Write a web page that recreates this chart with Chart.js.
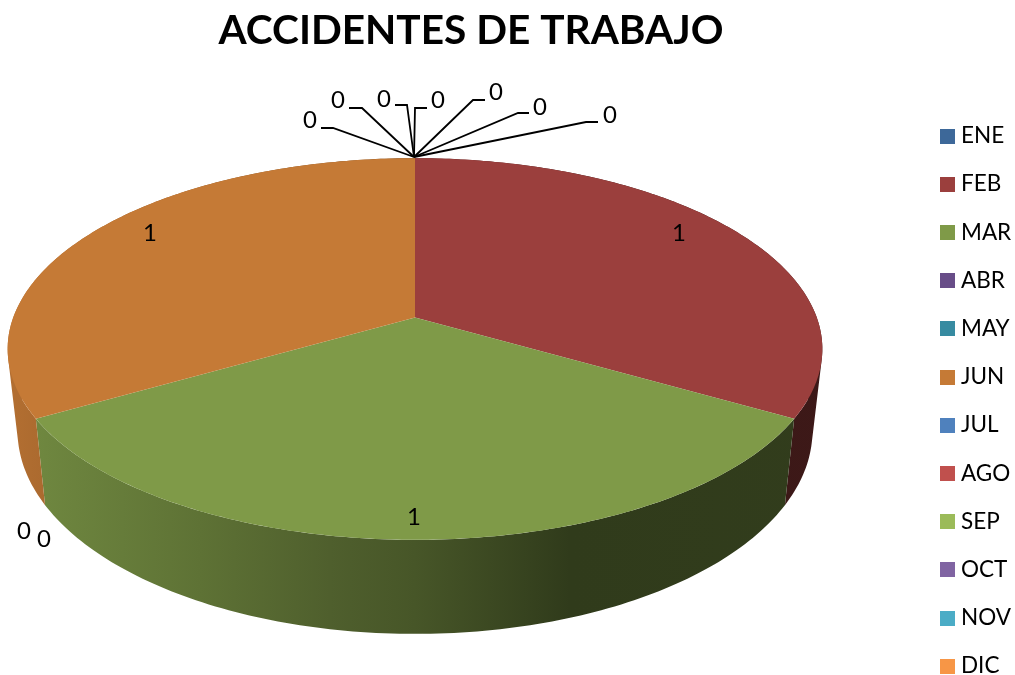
<!DOCTYPE html>
<html lang="es">
<head>
  <meta charset="UTF-8">
  <title>Accidentes de trabajo</title>
  <script src="https://cdn.jsdelivr.net/npm/chart.js"></script>
  <style>
    html, body { margin: 0; padding: 0; background: #fff; overflow: hidden; }
    #wrap { position: relative; width: 1015px; height: 675px; }
  </style>
</head>
<body>
  <div id="wrap"><canvas id="chart"></canvas></div>

  <script>
    // data
    const categories = ['ENE', 'FEB', 'MAR', 'ABR', 'MAY', 'JUN', 'JUL', 'AGO', 'SEP', 'OCT', 'NOV', 'DIC'];
    const accidents = [0, 1, 1, 0, 0, 1, 0, 0, 0, 0, 0, 0];

    // styles
    const topColors = ['#3d6899', '#9b3f3d', '#7f9a48', '#684d88', '#378ba1', '#c57a36',
                       '#4f81bd', '#c0504d', '#9bbb59', '#8064a2', '#4bacc6', '#f79646'];
    const FONT = 'Lato, Carlito, sans-serif';

    // perspective of the pie: top face and lower rim
    const centerX = 415;
    const tilt = -0.1645;
    const topRim = { a: 401.8, b: 133.4, c: 317.6 };
    const lowRim = { a: 392, b: 132, c: 397.6 };
    // wall shading along x: [x, brightness]
    const wallLight = [[0, 0.92], [45, 0.87], [200, 0.74], [330, 0.62], [415, 0.56], [570, 0.38], [1015, 0.4]];

    // where each value label goes, and its leader line when it has one
    const labelPos = [
      { x: 610, y: 115, line: [[598, 122], [586, 122]] },
      { x: 679, y: 233 },
      { x: 414, y: 517 },
      { x: 24, y: 531 },
      { x: 44, y: 539 },
      { x: 150, y: 233 },
      { x: 310, y: 120, line: [[321, 128], [333, 128]] },
      { x: 338, y: 100, line: [[349, 108], [362, 108]] },
      { x: 384, y: 99, line: [[395, 105], [407, 105]] },
      { x: 438, y: 100, line: [[427, 108], [415, 108]] },
      { x: 496, y: 92, line: [[485, 100], [473, 100]] },
      { x: 540, y: 107, line: [[529, 113], [518, 113]] }
    ];
    const leaderTarget = [414, 157];

    function project(rim, angle) {
      const u = Math.cos(angle), v = Math.sin(angle);
      const w = 1 + tilt * v;
      return [centerX + rim.a * u / w, (rim.b * v + rim.c) / w];
    }

    function shade(hex, k) {
      const n = parseInt(hex.slice(1), 16);
      const r = Math.round((n >> 16 & 255) * k);
      const g = Math.round((n >> 8 & 255) * k);
      const b = Math.round((n & 255) * k);
      return `rgb(${r},${g},${b})`;
    }

    function wallGradient(ctx, color) {
      const grad = ctx.createLinearGradient(0, 0, 1015, 0);
      wallLight.forEach(([x, k]) => grad.addColorStop(x / 1015, shade(color, k)));
      return grad;
    }

    // draws the pie arcs that Chart.js worked out as a tilted 3D pie
    const pie3d = {
      id: 'pie3d',
      beforeDatasetDraw(chart) {
        const ctx = chart.ctx;
        const arcs = chart.getDatasetMeta(0).data;
        ctx.save();

        // side walls first, the top face covers what is behind
        arcs.forEach((arc, i) => {
          if (arc.endAngle - arc.startAngle <= 0) return;
          const steps = Math.ceil((arc.endAngle - arc.startAngle) * 60);
          ctx.beginPath();
          for (let s = 0; s < steps; s++) {
            const a0 = arc.startAngle + (arc.endAngle - arc.startAngle) * s / steps;
            const a1 = arc.startAngle + (arc.endAngle - arc.startAngle) * (s + 1) / steps;
            const p = [project(topRim, a0), project(topRim, a1), project(lowRim, a1), project(lowRim, a0)];
            // same winding for every quad so one nonzero fill gives the union without seams
            let area = 0;
            p.forEach((q, k) => {
              const n = p[(k + 1) % 4];
              area += q[0] * n[1] - n[0] * q[1];
            });
            if (area < 0) p.reverse();
            ctx.moveTo(p[0][0], p[0][1]);
            ctx.lineTo(p[1][0], p[1][1]);
            ctx.lineTo(p[2][0], p[2][1]);
            ctx.lineTo(p[3][0], p[3][1]);
            ctx.closePath();
          }
          ctx.fillStyle = wallGradient(ctx, topColors[i]);
          ctx.fill();
        });

        arcs.forEach((arc, i) => {
          if (arc.endAngle - arc.startAngle <= 0) return;
          const steps = Math.ceil((arc.endAngle - arc.startAngle) * 90);
          ctx.beginPath();
          ctx.moveTo(centerX, topRim.c);
          for (let s = 0; s <= steps; s++) {
            const p = project(topRim, arc.startAngle + (arc.endAngle - arc.startAngle) * s / steps);
            ctx.lineTo(p[0], p[1]);
          }
          ctx.closePath();
          ctx.fillStyle = topColors[i];
          ctx.fill();
        });

        ctx.restore();
        return false;
      },
      afterDraw(chart) {
        const ctx = chart.ctx;
        ctx.save();

        // leader lines and value labels
        ctx.strokeStyle = '#000';
        ctx.lineWidth = 1.8;
        ctx.fillStyle = '#000';
        ctx.font = '24px ' + FONT;
        ctx.textAlign = 'center';
        ctx.textBaseline = 'middle';
        accidents.forEach((v, i) => {
          const pos = labelPos[i];
          if (pos.line) {
            ctx.beginPath();
            ctx.moveTo(pos.line[0][0], pos.line[0][1]);
            ctx.lineTo(pos.line[1][0], pos.line[1][1]);
            ctx.lineTo(leaderTarget[0], leaderTarget[1]);
            ctx.stroke();
          }
          ctx.fillText(String(v), pos.x, pos.y);
        });

        // legend
        ctx.font = '22.5px ' + FONT;
        ctx.textAlign = 'left';
        categories.forEach((name, i) => {
          const y = 136 + i * 48.2;
          ctx.fillStyle = topColors[i];
          ctx.fillRect(940, Math.round(y - 7.5), 15, 15);
          ctx.fillStyle = '#000';
          ctx.fillText(name, 961, y);
        });

        ctx.restore();
      }
    };

    new Chart(document.getElementById('chart'), {
      type: 'pie',
      data: {
        labels: categories,
        datasets: [{ data: accidents, backgroundColor: topColors, borderWidth: 0 }]
      },
      options: {
        responsive: true,
        maintainAspectRatio: false,
        animation: false,
        layout: { padding: { right: 73 } },
        plugins: {
          legend: { display: false },
          tooltip: { enabled: false },
          title: {
            display: true,
            text: 'ACCIDENTES DE TRABAJO',
            color: '#000',
            font: { family: FONT, size: 40.6, weight: 'bold' },
            padding: { top: 7, bottom: 10 }
          }
        }
      },
      plugins: [pie3d]
    });
  </script>
</body>
</html>
